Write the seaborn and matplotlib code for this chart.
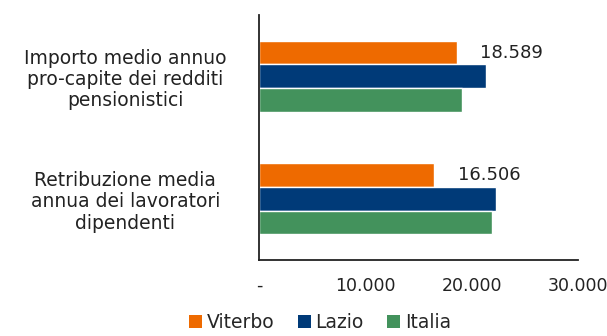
import matplotlib
matplotlib.use("Agg")
import matplotlib.pyplot as plt
import seaborn as sns
import pandas as pd
from matplotlib.patches import Patch

categories = [
    "Importo medio annuo\npro-capite dei redditi\npensionistici",
    "Retribuzione media\nannua dei lavoratori\ndipendenti",
]
series = ["Viterbo", "Lazio", "Italia"]
viterbo = [18589, 16506]
lazio = [21370, 22340]
italia = [19100, 21930]
colors = ["#EE6A00", "#003A78", "#43925C"]
xticks = [0, 10000, 20000, 30000]
xticklabels = ["-", "10.000", "20.000", "30.000"]

rows = []
for name, vals in zip(series, [viterbo, lazio, italia]):
    for cat, v in zip(categories, vals):
        rows.append({"categoria": cat, "area": name, "valore": v})
df = pd.DataFrame(rows)

sns.set_theme(style="white")
plt.rcParams["font.family"] = ["DejaVu Sans"]

fig = plt.figure(figsize=(6.07, 3.36), dpi=100)
ax = fig.add_axes([0.4272, 0.2262, 0.5245, 0.7292])

sns.barplot(data=df, y="categoria", x="valore", hue="area", order=categories,
            hue_order=series, palette=colors, orient="h", width=0.58,
            saturation=1, ax=ax, legend=False)

ax.set_xlim(0, 30000)
ax.set_ylim(1.5, -0.5)
ax.set_xticks(xticks)
ax.set_xticklabels(xticklabels, fontsize=12.5, color="#222222")
ax.tick_params(axis="x", direction="out", length=5, width=1.2, color="#222222", pad=7)
ax.tick_params(axis="y", length=0, pad=0)
for lab in ax.get_yticklabels():
    lab.set_fontsize(13.5)
    lab.set_color("#222222")
    lab.set_horizontalalignment("center")
    lab.set_linespacing(1.15)
    lab.set_x(-0.421)
ax.set_xlabel("")
ax.set_ylabel("")
for side in ["top", "right"]:
    ax.spines[side].set_visible(False)
for side in ["left", "bottom"]:
    ax.spines[side].set_color("#222222")
    ax.spines[side].set_linewidth(1.3)

# value labels on the Viterbo bars
viterbo_bars = ax.containers[0]
for bar, v in zip(viterbo_bars, viterbo):
    ax.annotate(f"{v:,}".replace(",", "."),
                xy=(bar.get_width(), bar.get_y() + bar.get_height() / 2),
                xytext=(17, 0), textcoords="offset points",
                ha="left", va="center", fontsize=13, color="#222222")

handles = [Patch(facecolor=c, edgecolor="none") for c in colors]
fig.legend(handles, series, loc="center", bbox_to_anchor=(0.527, 0.04),
           ncol=3, frameon=False, fontsize=13.5, handlelength=0.7,
           handleheight=0.7, handletextpad=0.25, columnspacing=1.25,
           borderpad=0.1)

fig.savefig("out.png", dpi=100)
